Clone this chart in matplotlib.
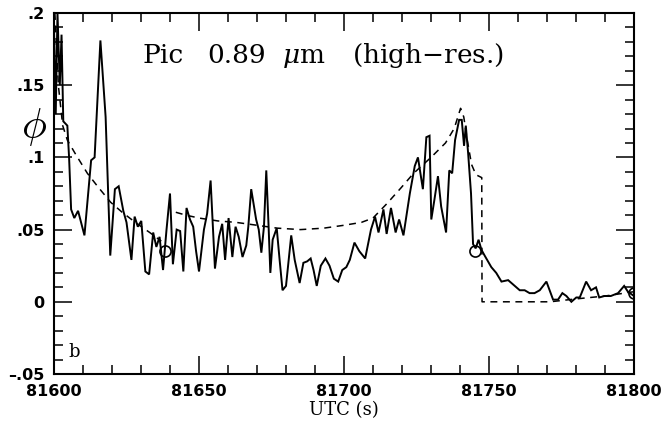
import matplotlib
matplotlib.use("Agg")
import matplotlib.pyplot as plt
from matplotlib.ticker import MultipleLocator, FixedLocator
from matplotlib.font_manager import FontProperties

# Observed phase function (high-resolution channel)
utc_obs = [
    81600.0, 81600.6, 81601.2, 81602.0, 81602.6, 81603.2, 81604.6, 81605.2,
    81605.9, 81607.0, 81608.3, 81610.5, 81612.8, 81614.0, 81616.0, 81617.8,
    81619.4, 81621.0, 81622.3, 81623.9, 81625.0, 81626.7, 81627.8, 81628.9,
    81630.1, 81631.5, 81632.8, 81634.2, 81635.3, 81636.4, 81637.6, 81638.8,
    81640.0, 81641.0, 81642.3, 81643.5, 81644.6, 81645.7, 81646.9, 81648.0,
    81649.0, 81650.0, 81651.7, 81652.8, 81654.0, 81655.5, 81656.9, 81658.0,
    81659.0, 81660.2, 81661.5, 81662.6, 81663.7, 81665.0, 81666.3, 81667.0,
    81668.0, 81669.7, 81670.6, 81671.5, 81672.4, 81673.2, 81674.0, 81674.6,
    81675.4, 81676.8, 81677.8, 81678.8, 81680.0, 81681.8, 81683.0, 81684.7,
    81686.0, 81687.3, 81688.5, 81689.5, 81690.6, 81692.0, 81693.6, 81695.0,
    81696.5, 81698.0, 81699.4, 81700.8, 81702.0, 81703.6, 81705.3, 81707.3,
    81709.3, 81710.7, 81711.9, 81713.6, 81714.7, 81716.2, 81717.8, 81719.0,
    81720.5, 81722.7, 81724.4, 81725.5, 81727.2, 81728.4, 81729.5, 81730.1,
    81731.2, 81732.4, 81733.5, 81735.2, 81736.3, 81737.3, 81738.3, 81739.7,
    81740.6, 81741.4, 81742.0, 81742.8, 81743.8, 81744.5, 81745.4, 81746.4,
    81747.4, 81748.5, 81750.8, 81752.5, 81754.3, 81756.6, 81758.3, 81760.6,
    81762.3, 81764.0, 81765.7, 81767.5, 81769.8, 81772.1, 81773.8, 81775.3,
    81776.7, 81778.4, 81780.1, 81781.3, 81783.5, 81785.2, 81786.9, 81788.0,
    81789.8, 81792.0, 81794.5, 81796.6, 81797.9, 81800.0,
]
phi_obs = [
    0.190, 0.130, 0.200, 0.150, 0.185, 0.125, 0.122, 0.100,
    0.064, 0.058, 0.063, 0.046, 0.098, 0.100, 0.181, 0.128,
    0.032, 0.078, 0.080, 0.063, 0.055, 0.029, 0.059, 0.052,
    0.056, 0.021, 0.019, 0.048, 0.038, 0.045, 0.022, 0.050,
    0.075, 0.026, 0.050, 0.049, 0.021, 0.065, 0.057, 0.052,
    0.035, 0.021, 0.050, 0.061, 0.084, 0.023, 0.045, 0.054,
    0.029, 0.058, 0.031, 0.052, 0.045, 0.031, 0.039, 0.052,
    0.078, 0.057, 0.050, 0.034, 0.052, 0.091, 0.052, 0.020,
    0.043, 0.051, 0.029, 0.008, 0.011, 0.046, 0.029, 0.013,
    0.027, 0.028, 0.030, 0.022, 0.011, 0.025, 0.030, 0.025,
    0.016, 0.014, 0.022, 0.024, 0.029, 0.041, 0.035, 0.030,
    0.050, 0.059, 0.048, 0.064, 0.047, 0.065, 0.048, 0.057,
    0.046, 0.075, 0.094, 0.100, 0.078, 0.114, 0.115, 0.057,
    0.071, 0.087, 0.066, 0.048, 0.091, 0.089, 0.112, 0.126,
    0.126, 0.108, 0.122, 0.103, 0.075, 0.040, 0.037, 0.043,
    0.036, 0.032, 0.024, 0.020, 0.014, 0.015, 0.012, 0.008,
    0.008, 0.006, 0.006, 0.008, 0.014, 0.0015, 0.0015, 0.006,
    0.004, 0.000, 0.003, 0.003, 0.014, 0.008, 0.010, 0.003,
    0.004, 0.004, 0.006, 0.011, 0.007, 0.004,
]

# Model curves: early decline, then the main model with its cutoff
utc_model_a = [81600.3, 81601.5, 81603.0, 81604.6, 81607.5, 81611.5,
               81615.0, 81619.5, 81623.5, 81628.7, 81633.0, 81637.0]
phi_model_a = [0.200, 0.150, 0.122, 0.112, 0.102, 0.089,
               0.080, 0.069, 0.062, 0.054, 0.048, 0.042]

utc_model_b = [81642.0, 81645.5, 81650.0, 81656.5, 81662.8, 81670.0,
               81677.0, 81685.0, 81693.0, 81700.0, 81706.0, 81710.0,
               81714.8, 81719.7, 81724.0, 81730.0, 81735.0, 81738.0,
               81740.2, 81741.3, 81742.5, 81744.0, 81745.5, 81747.5,
               81747.6, 81760.0, 81771.0, 81780.0, 81790.0, 81800.0]
phi_model_b = [0.062, 0.060, 0.058, 0.056, 0.055, 0.053,
               0.051, 0.050, 0.051, 0.053, 0.055, 0.058,
               0.068, 0.079, 0.089, 0.100, 0.110, 0.120,
               0.134, 0.128, 0.112, 0.095, 0.088, 0.086,
               0.000, 0.000, 0.000, 0.002, 0.004, 0.007]

# Marked reference points
utc_marks = [81638.3, 81745.3, 81800.0]
phi_marks = [0.035, 0.035, 0.006]

x_ticks = [81600, 81650, 81700, 81750, 81800]
x_labels = ["81600", "81650", "81700", "81750", "81800"]
y_ticks = [-0.05, 0.0, 0.05, 0.10, 0.15, 0.20]
y_labels = ["\u2013.05", "0", ".05", ".1", ".15", ".2"]

# Title words and their left edges (pixels)
title_words = ["Pic", "0.89", r"$\mu$m", r"(high$-$res.)"]
title_x_px = [143, 207, 282, 352]

plt.rcParams["lines.scale_dashes"] = False

W, H = 662, 425
fig = plt.figure(figsize=(W / 100, H / 100), dpi=100)
ax = fig.add_axes([54 / W, 1 - 374 / H, 580 / W, 361 / H])

ax.plot(utc_obs, phi_obs, color="black", lw=1.4, solid_joinstyle="miter")
ax.plot(utc_model_a, phi_model_a, color="black", lw=1.1, dashes=(5, 4))
ax.plot(utc_model_b, phi_model_b, color="black", lw=1.1, dashes=(5, 4))
ax.plot(utc_marks, phi_marks, linestyle="none", marker="o", ms=8,
        mfc="none", mec="black", mew=1.2)

ax.set_xlim(81600, 81800)
ax.set_ylim(-0.05, 0.2)

ax.xaxis.set_major_locator(FixedLocator(x_ticks))
ax.xaxis.set_minor_locator(MultipleLocator(10))
ax.yaxis.set_major_locator(FixedLocator(y_ticks))
ax.yaxis.set_minor_locator(MultipleLocator(0.01))
ax.set_xticklabels(x_labels)
ax.set_yticklabels(y_labels)

for lab in ax.get_xticklabels() + ax.get_yticklabels():
    lab.set_fontfamily("DejaVu Sans")
    lab.set_fontsize(11.5)
    lab.set_fontweight("bold")

ax.tick_params(which="both", direction="in", top=True, right=True,
               width=1.1, colors="black")
ax.tick_params(which="major", length=13, pad=7)
ax.tick_params(which="minor", length=6.5)
for sp in ax.spines.values():
    sp.set_linewidth(1.5)

ax.set_xlabel("UTC (s)", fontfamily="DejaVu Serif", fontsize=13, labelpad=2)

title_fp = FontProperties(family="DejaVu Serif", size=19, math_fontfamily="dejavuserif")
for word, xp in zip(title_words, title_x_px):
    fig.text(xp / W, 1 - 63 / H, word, ha="left", va="baseline",
             fontproperties=title_fp)

phi_fp = FontProperties(family="DejaVu Serif", size=30, math_fontfamily="cm")
fig.text(34 / W, 1 - 127 / H, r"$\phi$", ha="center", va="center",
         fontproperties=phi_fp)

fig.text(68 / W, 1 - 357 / H, "b", ha="left", va="baseline",
         fontfamily="DejaVu Serif", fontsize=13)

fig.savefig("out.png", dpi=100)
